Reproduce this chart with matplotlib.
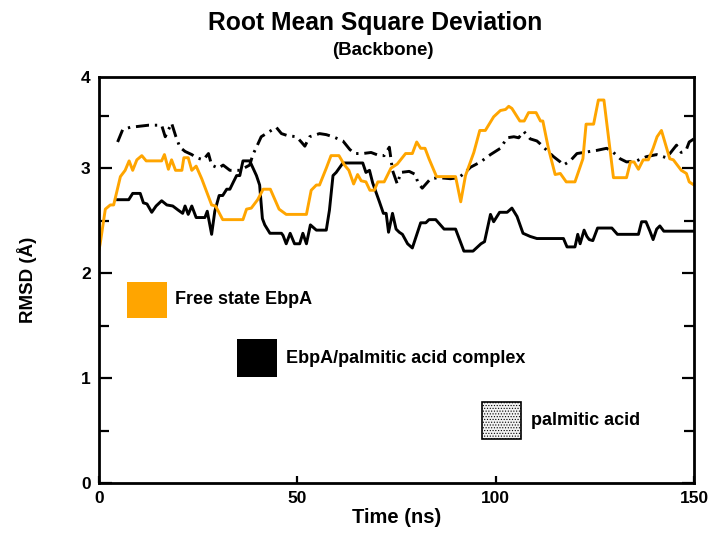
"""RMSD of backbone over time."""
import matplotlib
matplotlib.use("Agg")
import matplotlib.pyplot as plt
from matplotlib.patches import Rectangle

plt.rcParams["font.family"] = ["Liberation Sans", "DejaVu Sans"]
plt.rcParams["font.weight"] = "bold"

# Free state EbpA (orange)
free_t = [0, 0.3, 1.6, 2.85, 3.7, 5.4, 6.6, 7.6, 8.5, 9.55, 10.8, 11.9, 15.8, 16.5,
          17.5, 18.3, 19.3, 20.9, 21.4, 22.5, 23.4, 24.5, 25.9, 28.4, 29.4, 31.2,
          36.3, 37.2, 38.4, 40, 41.4, 43.2, 45.4, 47.2, 52.3, 53.5, 54.8, 55.6,
          57.3, 58.5, 60.5, 61.9, 63, 64.2, 65.2, 66.1, 67.3, 68.3, 69.4, 70.3,
          71.9, 73.6, 75.2, 77.3, 79, 80.1, 81.1, 82.2, 83.2, 85.1, 89.9, 91.2,
          92.4, 94.5, 96, 97.4, 99.5, 101.2, 102.5, 103.3, 104.1, 106.1, 107.2,
          108.3, 110.2, 111.3, 111.9, 113.3, 115, 116.3, 117.8, 120, 122, 122.8,
          124.7, 125.9, 127.3, 129.7, 133, 134, 134.9, 136, 137.2, 138.5, 139.7,
          140.7, 141.8, 143.9, 144.8, 146.8, 148.1, 148.8, 150]
free_rmsd = [2.22, 2.28, 2.61, 2.65, 2.65, 2.92, 2.98, 3.07, 2.98, 3.08, 3.12, 3.07,
             3.07, 3.13, 2.99, 3.08, 2.98, 2.98, 3.1, 3.1, 2.98, 3.02, 2.9, 2.65,
             2.64, 2.51, 2.51, 2.61, 2.62, 2.7, 2.8, 2.8, 2.61, 2.56, 2.56, 2.79,
             2.84, 2.84, 3.0, 3.12, 3.12, 3.03, 2.98, 2.85, 2.94, 2.88, 2.87, 2.79,
             2.79, 2.87, 2.87, 3.0, 3.04, 3.14, 3.14, 3.25, 3.19, 3.19, 3.09, 2.92,
             2.92, 2.68, 2.93, 3.15, 3.36, 3.36, 3.49, 3.55, 3.56, 3.59, 3.57, 3.45,
             3.45, 3.53, 3.53, 3.45, 3.45, 3.19, 2.94, 2.95, 2.87, 2.87, 3.09, 3.42,
             3.42, 3.65, 3.65, 2.91, 2.91, 3.06, 3.06, 2.99, 3.08, 3.08, 3.19, 3.3,
             3.36, 3.09, 3.08, 2.98, 2.95, 2.87, 2.84]

# EbpA/palmitic acid complex (black solid)
cplx_t = [4.7, 7.5, 8.5, 10.4, 11.2, 12.1, 13.3, 14.4, 15.8, 17.1, 18.6, 20, 21.1,
          21.7, 22.5, 23.4, 24.5, 26.7, 27.3, 28.4, 29.2, 30.3, 31.2, 32.2, 33,
          33.9, 34.7, 35.5, 36.3, 38, 39.7, 40.5, 41.2, 41.8, 43.1, 46, 46.4, 47.2,
          48.2, 49.3, 50.6, 51.4, 52.3, 53.3, 54.8, 57.3, 58.1, 59, 59.8, 61.5,
          66.5, 67.3, 68.2, 69, 70.7, 71.7, 72.4, 73, 74, 74.9, 75.7, 76.5, 77.8,
          79, 81.1, 82.4, 83.2, 84.9, 87, 89.9, 92, 94.3, 96.3, 97.2, 98.7, 99.5,
          101, 102.9, 104.1, 105.4, 106.9, 108.7, 110.4, 117.1, 118, 120, 120.7,
          121.3, 122.3, 123, 123.6, 124.5, 125.7, 129.3, 130.7, 136, 136.8, 137.9,
          138.9, 139.7, 140.6, 141.4, 142.4, 143.9, 150]
cplx_rmsd = [2.70, 2.70, 2.76, 2.76, 2.67, 2.66, 2.58, 2.64, 2.69, 2.65, 2.64, 2.6,
             2.57, 2.64, 2.56, 2.64, 2.53, 2.53, 2.59, 2.37, 2.59, 2.74, 2.74, 2.80,
             2.80, 2.87, 2.93, 2.93, 3.07, 3.07, 2.93, 2.84, 2.52, 2.46, 2.38, 2.38,
             2.36, 2.28, 2.38, 2.28, 2.28, 2.38, 2.28, 2.46, 2.41, 2.41, 2.6, 2.93,
             2.96, 3.05, 3.05, 2.96, 2.98, 2.86, 2.68, 2.57, 2.57, 2.39, 2.57, 2.42,
             2.39, 2.37, 2.28, 2.24, 2.48, 2.48, 2.51, 2.51, 2.42, 2.42, 2.21, 2.21,
             2.28, 2.3, 2.56, 2.49, 2.58, 2.58, 2.62, 2.54, 2.38, 2.35, 2.33, 2.33,
             2.25, 2.25, 2.37, 2.28, 2.41, 2.35, 2.32, 2.31, 2.43, 2.43, 2.37, 2.37,
             2.49, 2.49, 2.40, 2.32, 2.42, 2.45, 2.4, 2.4, 2.4]

# palmitic acid (black dash-dot)
pa_t = [4.7, 6, 7.9, 12.5, 15.8, 16.7, 18.3, 19.4, 20.4, 21.7, 23.4, 24.6, 26.3,
        27.6, 28.4, 30.1, 31.3, 33, 35.5, 38, 38.8, 39.7, 40.9, 43, 44.7, 46, 47.6,
        49.8, 51, 51.9, 53.1, 55.6, 57.3, 59, 61.5, 63.2, 64.4, 66.5, 68.6, 70.7,
        71.9, 73.2, 74, 75.2, 76.1, 78.2, 79.8, 80.4, 81.5, 83.6, 85.7, 88.6, 90.7,
        92, 93.7, 96.2, 98.7, 101.2, 102.9, 104.6, 105.8, 107.1, 108.7, 110.4,
        111.3, 112.9, 114.6, 116.3, 117.1, 118.8, 120.5, 123.8, 125.5, 128, 129.7,
        131.4, 133, 135.5, 138, 140.6, 142.2, 143.1, 145.6, 146.8, 148.1, 148.8,
        150]
pa_rmsd = [3.25, 3.37, 3.39, 3.41, 3.41, 3.30, 3.43, 3.3, 3.2, 3.16, 3.13, 3.10,
           3.08, 3.14, 3.03, 3.0, 3.03, 2.98, 2.98, 3.03, 3.13, 3.2, 3.30, 3.35,
           3.39, 3.33, 3.31, 3.3, 3.25, 3.21, 3.3, 3.33, 3.32, 3.30, 3.26, 3.18,
           3.14, 3.14, 3.15, 3.12, 3.12, 3.2, 2.98, 2.85, 2.96, 2.97, 2.94, 2.86,
           2.81, 2.90, 2.91, 2.90, 2.91, 2.95, 3.01, 3.06, 3.13, 3.19, 3.29, 3.30,
           3.29, 3.35, 3.28, 3.26, 3.23, 3.17, 3.11, 3.06, 3.03, 3.07, 3.14, 3.16,
           3.17, 3.19, 3.15, 3.09, 3.06, 3.07, 3.11, 3.13, 3.11, 3.10, 3.22, 3.15,
           3.18, 3.25, 3.28]

y_top = 3.87
y_ticks = [0, 1, 2, 3, y_top]
y_ticklabels = ["0", "1", "2", "3", "4"]
x_ticks = [0, 50, 100, 150]

fig = plt.figure(figsize=(7.09, 5.38), dpi=100)
ax = fig.add_axes([0.1396, 0.1022, 0.8392, 0.7548])

lw = 2.1
ax.plot(pa_t, pa_rmsd, color="black", lw=lw, dashes=(4.5, 2, 0.8, 2))
ax.plot(cplx_t, cplx_rmsd, color="black", lw=lw)
ax.plot(free_t, free_rmsd, color="#FFA500", lw=lw)

# hand-drawn style legend
leg_fs = 13
ax.add_patch(Rectangle((7.0, 1.57), 10.1, 0.35, facecolor="#FFA500",
                       edgecolor="none"))
ax.text(19.1, 1.745, "Free state EbpA", fontsize=leg_fs, fontweight="bold",
        va="center")
ax.add_patch(Rectangle((34.9, 1.01), 10.1, 0.36, facecolor="black",
                       edgecolor="none"))
ax.text(47.2, 1.19, "EbpA/palmitic acid complex", fontsize=leg_fs,
        fontweight="bold", va="center")
plt.rcParams["hatch.color"] = "#555555"
plt.rcParams["hatch.linewidth"] = 0.5
ax.add_patch(Rectangle((96.5, 0.42), 10.0, 0.35, facecolor="#f2f2f2",
                       edgecolor="black", lw=1.2, hatch="......"))
ax.text(108.8, 0.6, "palmitic acid", fontsize=leg_fs, fontweight="bold",
        va="center")

ax.set_xlim(0, 150)
ax.set_ylim(0, y_top)
ax.set_xticks(x_ticks)
ax.set_yticks(y_ticks)
ax.set_yticklabels(y_ticklabels)
ax.set_yticks([0.5, 1.5, 2.5, 3.5], minor=True)
ax.tick_params(axis="both", which="major", direction="in", width=1.6,
               labelsize=12.5, pad=6)
ax.tick_params(axis="y", which="major", length=9, right=True)
ax.tick_params(axis="y", which="minor", direction="in", length=7, width=1.6,
               right=True)
ax.tick_params(axis="x", which="major", length=5)
ax.yaxis.get_major_ticks()[-1].tick1line.set_visible(False)
ax.yaxis.get_major_ticks()[-1].tick2line.set_visible(False)
for lab in ax.get_xticklabels() + ax.get_yticklabels():
    lab.set_fontweight("bold")
for s in ax.spines.values():
    s.set_linewidth(2.0)

ax.set_xlabel("Time (ns)", fontsize=14.5, fontweight="bold", labelpad=1)
fig.text(0.038, 0.48, "RMSD (Å)", fontsize=13.5, fontweight="bold",
         rotation=90, ha="center", va="center")
fig.text(0.529, 0.957, "Root Mean Square Deviation", fontsize=17.7,
         fontweight="bold", ha="center", va="center")
fig.text(0.54, 0.907, "(Backbone)", fontsize=13.5, fontweight="bold",
         ha="center", va="center")

plt.savefig("out.png", dpi=100)
plt.close()
